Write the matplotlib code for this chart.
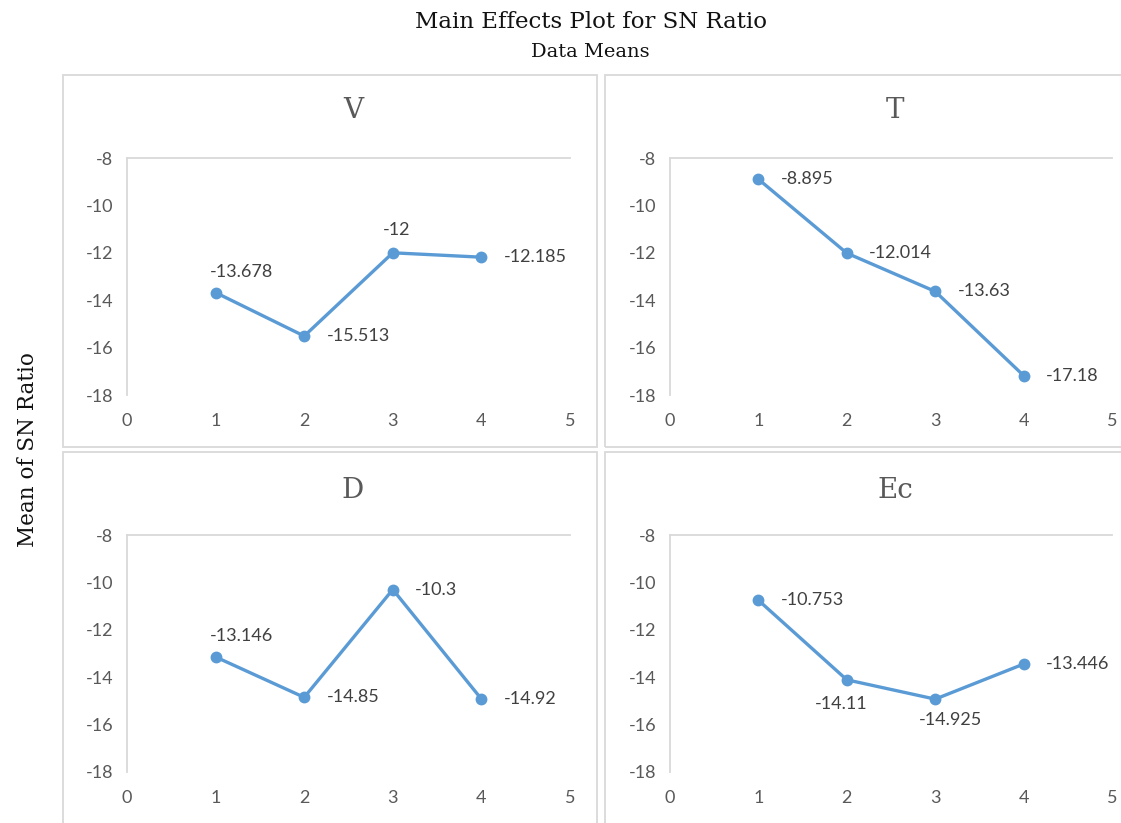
import matplotlib
matplotlib.use("Agg")
import matplotlib.pyplot as plt
from matplotlib.patches import Rectangle

plt.rcParams["axes.unicode_minus"] = False

# ---- data ----
levels = [1, 2, 3, 4]
V = [-13.678, -15.513, -12.0, -12.185]
T = [-8.895, -12.014, -13.63, -17.18]
D = [-13.146, -14.85, -10.3, -14.92]
Ec = [-10.753, -14.11, -14.925, -13.446]
panel_titles = ["V", "T", "D", "Ec"]
yticks = [-8, -10, -12, -14, -16, -18]
xticks = [0, 1, 2, 3, 4, 5]

series = [V, T, D, Ec]

# label placement per panel (style, not data)
placements = [
    ["above1", "right", "above", "right"],
    ["right", "right", "right", "right"],
    ["above1", "right", "right", "right"],
    ["right", "below1", "below2", "right"],
]
offsets = {
    "right": ((16, 0), "left", "center"),
    "above": ((3, 11), "center", "bottom"),
    "above1": ((19, 9), "center", "bottom"),
    "below1": ((-4, -12), "center", "top"),
    "below2": ((11, -9), "center", "top"),
}

W, H = 1121, 823
fig = plt.figure(figsize=(W / 100, H / 100), dpi=100)
fig.patch.set_facecolor("white")

LINE = "#5B9BD5"
GRID = "#D9D9D9"
TICK = "#595959"
LABEL = "#404040"
SANS = ["Lato", "DejaVu Sans"]
SERIF = ["DejaVu Serif"]

def px(x0, y0, x1, y1):
    return [x0 / W, 1 - y1 / H, (x1 - x0) / W, (y1 - y0) / H]

# panel boxes (pixel extents)
boxes = [(63, 75, 597, 447), (605, 75, 1125, 447), (63, 452, 597, 828), (605, 452, 1125, 828)]
for (x0, y0, x1, y1) in boxes:
    fig.patches.append(Rectangle((x0 / W, 1 - y1 / H), (x1 - x0) / W, (y1 - y0) / H,
                                 transform=fig.transFigure, fill=False,
                                 edgecolor=GRID, linewidth=1.3, zorder=0))

# axes extents (pixels): x=0..5, y=-8..-18
axes_px = [(127, 158, 570, 395), (670, 158, 1112, 395), (127, 535, 570, 772), (670, 535, 1112, 772)]
title_y = [110, 110, 490, 490]

for i, (vals, title) in enumerate(zip(series, panel_titles)):
    x0, y0, x1, y1 = axes_px[i]
    ax = fig.add_axes(px(x0, y0, x1, y1))
    ax.plot(levels, vals, color=LINE, lw=2.4, marker="o", ms=7.5, zorder=3, clip_on=False)
    ax.set_xlim(0, 5)
    ax.set_ylim(-18, -8)
    ax.set_xticks(xticks)
    ax.set_yticks(yticks)
    ax.tick_params(length=0, labelsize=13, labelcolor=TICK)
    ax.tick_params(axis="y", pad=10)
    ax.tick_params(axis="x", pad=13)
    for lab in ax.get_xticklabels() + ax.get_yticklabels():
        lab.set_family(SANS)
    for s in ["bottom", "right"]:
        ax.spines[s].set_visible(False)
    for s in ["left", "top"]:
        ax.spines[s].set_color(GRID)
        ax.spines[s].set_linewidth(1.3)
    for j, (x, v) in enumerate(zip(levels, vals)):
        (dx, dy), ha, va = offsets[placements[i][j]]
        ax.annotate(f"{v:g}", (x, v), xytext=(dx, dy), textcoords="offset points",
                    ha=ha, va=va, fontsize=13, color=LABEL, family=SANS)
    fig.text((x0 + x1) / 2 / W + 0.004, 1 - title_y[i] / H, title, ha="center", va="center",
             fontsize=20, color=TICK, family=SERIF)

fig.text(591 / W, 1 - 22 / H, "Main Effects Plot for SN Ratio", ha="center", va="center",
         fontsize=16.5, color="#111111", family=SERIF)
fig.text(590 / W, 1 - 52 / H, "Data Means", ha="center", va="center",
         fontsize=14, color="#111111", family=SERIF)
fig.text(28 / W, 1 - 450 / H, "Mean of SN Ratio", ha="center", va="center", rotation=90,
         fontsize=15.5, color="#111111", family=SERIF)

fig.savefig("out.png", dpi=100)
